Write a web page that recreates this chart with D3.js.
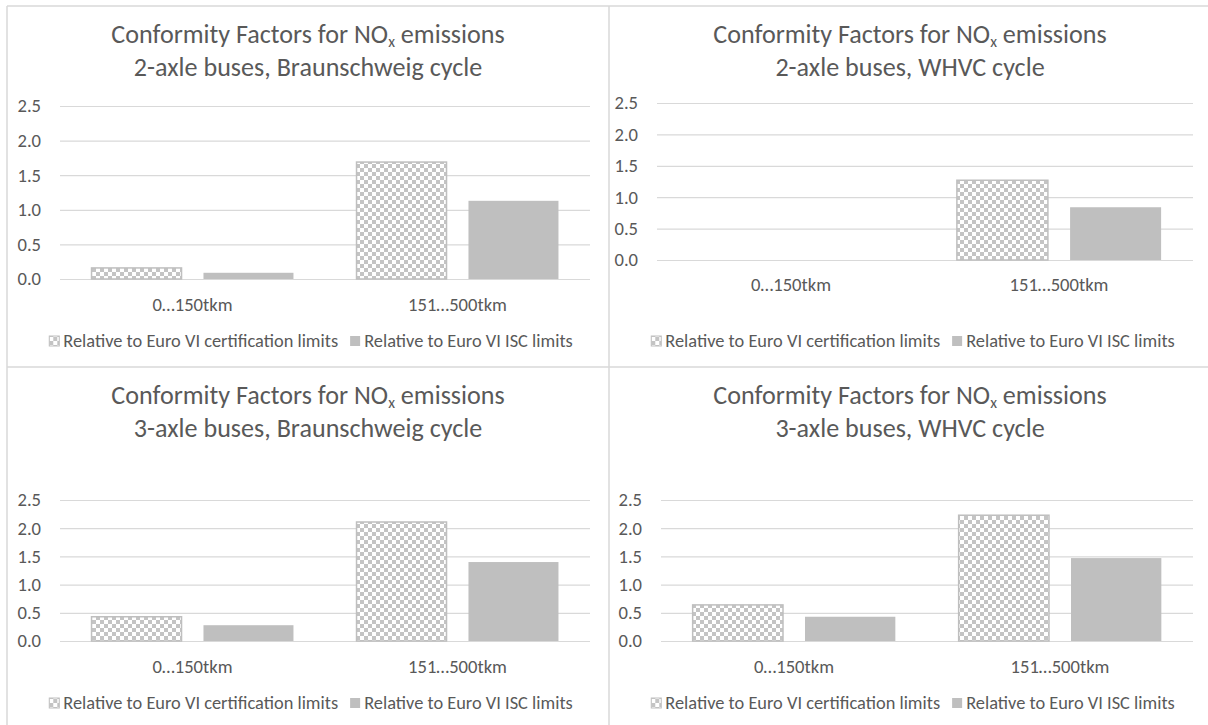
<!DOCTYPE html>
<html>
<head>
<meta charset="utf-8">
<script src="https://cdn.jsdelivr.net/npm/d3@7"></script>
<style>
  html, body { margin: 0; padding: 0; background: #ffffff; }
  svg { display: block; }
</style>
</head>
<body>
<svg id="chart" width="1208" height="725"></svg>
<script>
// ---------------- DATA ----------------
const categories = ["0\u2026150tkm", "151\u2026500tkm"];
const seriesNames = ["Relative to Euro VI certification limits", "Relative to Euro VI ISC limits"];
const titleMain = "Conformity Factors for NO";
const titleSub = "x";
const titleTail = " emissions";
const subtitles = [
  "2-axle buses, Braunschweig cycle",
  "2-axle buses, WHVC cycle",
  "3-axle buses, Braunschweig cycle",
  "3-axle buses, WHVC cycle"
];
// Values per panel: [0…150tkm, 151…500tkm]
const cert2axleBraunschweig = [0.16, 1.69];
const isc2axleBraunschweig  = [0.09, 1.13];
const cert2axleWHVC = [null, 1.27];
const isc2axleWHVC  = [null, 0.84];
const cert3axleBraunschweig = [0.43, 2.11];
const isc3axleBraunschweig  = [0.28, 1.40];
const cert3axleWHVC = [0.64, 2.23];
const isc3axleWHVC  = [0.43, 1.47];
const yTickValues = [0, 0.5, 1.0, 1.5, 2.0, 2.5];
const yMax = 2.5;

const panelSeries = [
  [cert2axleBraunschweig, isc2axleBraunschweig],
  [cert2axleWHVC, isc2axleWHVC],
  [cert3axleBraunschweig, isc3axleBraunschweig],
  [cert3axleWHVC, isc3axleWHVC]
];

// ---------------- LAYOUT ----------------
const layouts = [
  {cx: 308, top: 6,   x0: 60,  x1: 590,  yb: 279, yt: 106, catY: 304, legY: 341},
  {cx: 910, top: 6,   x0: 657, x1: 1193, yb: 260, yt: 103, catY: 284, legY: 341},
  {cx: 308, top: 367, x0: 60,  x1: 590,  yb: 641, yt: 500, catY: 666, legY: 703},
  {cx: 910, top: 367, x0: 661, x1: 1193, yb: 641, yt: 500, catY: 666, legY: 703}
];
const textColor = "#595959";
const gridColor = "#d9d9d9";
const barGray = "#bfbfbf";
const fontFamily = "Carlito, Calibri, Lato, 'Open Sans', sans-serif";

const svg = d3.select("#chart");
svg.append("rect").attr("width", 1208).attr("height", 725).attr("fill", "#fff");

// patterns
const defs = svg.append("defs");
const pat = defs.append("pattern").attr("id", "checker")
  .attr("patternUnits", "userSpaceOnUse").attr("width", 8).attr("height", 8);
pat.append("rect").attr("width", 8).attr("height", 8).attr("fill", "#ffffff");
pat.append("rect").attr("width", 4).attr("height", 4).attr("fill", "#c4c4c4");
pat.append("rect").attr("x", 4).attr("y", 4).attr("width", 4).attr("height", 4).attr("fill", "#c4c4c4");

// measure helper to fit font sizes to the reference widths
const measure = svg.append("text").attr("font-family", fontFamily).attr("font-size", 100).attr("x", -1000).attr("y", -1000);
function fitSize(str, target) {
  measure.text(str);
  const w = measure.node().getComputedTextLength();
  return 100 * target / w;
}
const titleSize = fitSize("Conformity Factors for NOx emissions", 398);
const tickSize = fitSize("151\u2026500tkm", 99);
const legendSize = fitSize(seriesNames[0], 275);
measure.remove();

// ---------------- BORDERS ----------------
const borders = [
  [7, 6, 7, 725], [7, 6, 1208, 6], [609, 6, 609, 725], [7, 367, 1208, 367]
];
svg.append("g").selectAll("line").data(borders).join("line")
  .attr("x1", d => d[0]).attr("y1", d => d[1]).attr("x2", d => d[2]).attr("y2", d => d[3])
  .attr("stroke", gridColor).attr("stroke-width", 1.5);

// ---------------- PANELS ----------------
panelSeries.forEach((series, i) => {
  const L = layouts[i];
  const g = svg.append("g").attr("font-family", fontFamily);

  // title
  const t1 = g.append("text").attr("x", L.cx).attr("y", L.top + 37)
    .attr("text-anchor", "middle").attr("fill", textColor).attr("font-size", titleSize);
  t1.append("tspan").text(titleMain);
  t1.append("tspan").text(titleSub).attr("font-size", titleSize * 0.6).attr("dy", titleSize * 0.16);
  t1.append("tspan").text(titleTail).attr("dy", -titleSize * 0.16);
  g.append("text").attr("x", L.cx).attr("y", L.top + 70)
    .attr("text-anchor", "middle").attr("fill", textColor).attr("font-size", titleSize)
    .text(subtitles[i]);

  // scales
  const y = d3.scaleLinear().domain([0, yMax]).range([L.yb, L.yt]);
  const x = d3.scaleBand().domain(categories).range([L.x0, L.x1]);
  const bw = x.bandwidth();
  const xs = d3.scaleBand().domain([0, 1]).range([bw * 0.119, bw * 0.881]).paddingInner(0.196);

  // y axis + gridlines
  const ya = g.append("g").attr("transform", `translate(${L.x0},0)`)
    .call(d3.axisLeft(y).tickValues(yTickValues).tickFormat(d3.format(".1f"))
      .tickSize(-(L.x1 - L.x0)).tickPadding(19));
  ya.select(".domain").remove();
  ya.selectAll("line").attr("stroke", gridColor).attr("stroke-width", 1.2);
  ya.selectAll("text").attr("fill", textColor).attr("font-size", tickSize).attr("font-family", fontFamily);

  // bars
  const barData = [];
  categories.forEach((c, j) => {
    series.forEach((s, k) => {
      if (s[j] !== null && s[j] !== undefined) barData.push({c, k, v: s[j]});
    });
  });
  g.append("g").selectAll("rect").data(barData).join("rect")
    .attr("x", d => x(d.c) + xs(d.k))
    .attr("width", xs.bandwidth())
    .attr("y", d => y(d.v))
    .attr("height", d => y(0) - y(d.v))
    .attr("fill", d => d.k === 0 ? "url(#checker)" : barGray)
    .attr("stroke", d => d.k === 0 ? barGray : "none")
    .attr("stroke-width", 1.5);

  // category axis labels
  const xa = g.append("g").attr("transform", `translate(0,${L.catY})`)
    .call(d3.axisBottom(x).tickSize(0).tickPadding(0));
  xa.select(".domain").remove();
  xa.selectAll("text").attr("dy", "0.35em").attr("fill", textColor)
    .attr("font-size", tickSize).attr("font-family", fontFamily);

  // legend
  const leg = g.append("g");
  const items = seriesNames.map((n, k) => ({n, k}));
  const itemG = leg.selectAll("g").data(items).join("g");
  itemG.append("rect").attr("x", 0).attr("y", -5).attr("width", 10).attr("height", 10)
    .attr("fill", d => d.k === 0 ? "url(#checker)" : barGray)
    .attr("stroke", d => d.k === 0 ? barGray : "none").attr("stroke-width", 1);
  itemG.append("text").attr("x", 14).attr("dy", "0.35em").attr("fill", textColor)
    .attr("font-size", legendSize).text(d => d.n);
  let off = 0;
  itemG.each(function () {
    const w = d3.select(this).select("text").node().getComputedTextLength() + 14;
    d3.select(this).attr("data-off", off);
    off += w + 12;
  });
  const total = off - 12;
  const startX = L.cx + 3 - total / 2;
  itemG.attr("transform", function () {
    return `translate(${startX + (+this.getAttribute("data-off"))},${L.legY})`;
  });
});
</script>
</body>
</html>
